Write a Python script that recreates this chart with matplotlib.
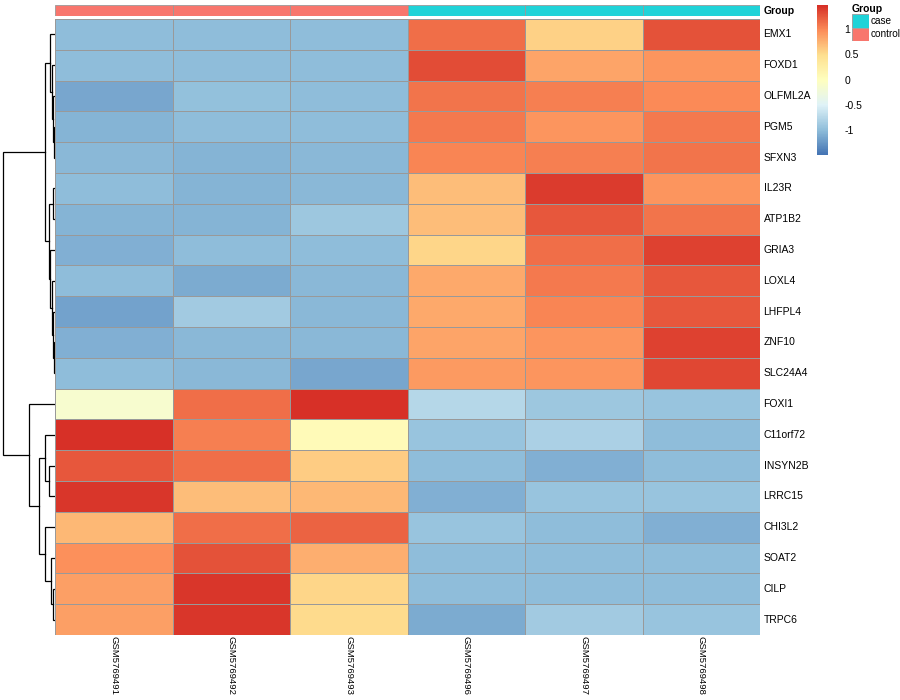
#---Import libraries---
import numpy as np
import matplotlib
matplotlib.use("Agg")
import matplotlib.pyplot as plt
from matplotlib.colors import LinearSegmentedColormap
from matplotlib.patches import Rectangle

plt.rcParams['font.family'] = ['Liberation Sans', 'DejaVu Sans']

#---Data---
genes = ["EMX1", "FOXD1", "OLFML2A", "PGM5", "SFXN3", "IL23R", "ATP1B2",
         "GRIA3", "LOXL4", "LHFPL4", "ZNF10", "SLC24A4", "FOXI1", "C11orf72",
         "INSYN2B", "LRRC15", "CHI3L2", "SOAT2", "CILP", "TRPC6"]
samples = ["GSM5769491", "GSM5769492", "GSM5769493",
           "GSM5769496", "GSM5769497", "GSM5769498"]
groups = ["control", "control", "control", "case", "case", "case"]

values = np.array([
    [-1.00, -1.00, -1.00, 1.15, 0.60, 1.30],
    [-1.00, -1.00, -1.00, 1.33, 0.85, 0.95],
    [-1.15, -0.95, -1.00, 1.12, 1.06, 1.00],
    [-1.05, -1.00, -1.00, 1.10, 0.95, 1.10],
    [-1.02, -1.05, -1.02, 1.05, 1.08, 1.12],
    [-1.00, -1.05, -1.02, 0.72, 1.42, 0.95],
    [-1.05, -1.05, -0.90, 0.72, 1.28, 1.12],
    [-1.08, -1.00, -1.00, 0.55, 1.15, 1.40],
    [-1.00, -1.10, -1.02, 0.82, 1.10, 1.27],
    [-1.18, -0.88, -1.02, 0.82, 1.03, 1.27],
    [-1.08, -1.02, -1.02, 0.85, 0.95, 1.40],
    [-0.98, -1.02, -1.15, 0.92, 0.95, 1.38],
    [-0.12, 1.15, 1.50, -0.75, -0.90, -0.93],
    [1.48, 1.06, 0.08, -0.92, -0.80, -1.00],
    [1.27, 1.15, 0.62, -1.00, -1.08, -1.00],
    [1.45, 0.72, 0.75, -1.08, -0.93, -0.93],
    [0.75, 1.15, 1.23, -0.93, -1.00, -1.08],
    [0.97, 1.30, 0.80, -1.00, -0.98, -1.00],
    [0.90, 1.45, 0.55, -1.00, -0.98, -1.00],
    [0.90, 1.45, 0.53, -1.10, -0.88, -0.93],
])

#Row clustering: (left, right, height).
#Leaves are 0-19, merged nodes are numbered from 20 onward.
merges = [
    (3, 4, 0.5), (2, 20, 1.5), (1, 21, 2.8), (0, 22, 4.5),
    (5, 6, 1.5), (10, 11, 1.0), (9, 25, 2.0), (8, 26, 3.0),
    (7, 27, 4.5), (24, 28, 6.0), (23, 29, 9.5),
    (14, 15, 5.5), (13, 31, 9.5), (18, 19, 1.5), (17, 33, 3.5),
    (16, 34, 9.5), (32, 35, 15.5), (12, 36, 25.5), (30, 37, 51.5),
]

vmin, vmax = -1.48, 1.5
group_colors = {"case": "#1FD3D8", "control": "#F8766D"}

#---Colour map (reversed RdYlBu, 7 colours)---
cols = ["#4575B4", "#91BFDB", "#E0F3F8", "#FFFFBF", "#FEE090", "#FC8D59", "#D73027"]
cmap = LinearSegmentedColormap.from_list("rdylbu_r", cols, N=100)

fig = plt.figure(figsize=(9, 7), dpi=100)
W, H = 900.0, 700.0
grid_col = "#999999"

def px_axes(x0, y0, x1, y1):
    return fig.add_axes([x0 / W, 1 - y1 / H, (x1 - x0) / W, (y1 - y0) / H])

nr, nc = values.shape

#---Heatmap---
ax = px_axes(55, 19, 760, 635)
ax.pcolormesh(values, cmap=cmap, vmin=vmin, vmax=vmax,
              edgecolors=grid_col, linewidth=0.6)
ax.set_xlim(0, nc)
ax.set_ylim(nr, 0)
ax.axis("off")
for i, g in enumerate(genes):
    ax.text(nc + 0.03, i + 0.5, g, va="center", ha="left", fontsize=7.5)
for j, s in enumerate(samples):
    ax.text(j + 0.5, nr + 0.04, s, rotation=-90, va="top", ha="center",
            fontsize=6.8)

#---Annotation bar---
axa = px_axes(55, 5, 760, 16)
for j, g in enumerate(groups):
    axa.add_patch(Rectangle((j, 0), 1, 1, facecolor=group_colors[g],
                            edgecolor=grid_col, linewidth=0.6))
axa.set_xlim(0, nc)
axa.set_ylim(0, 1)
axa.axis("off")
axa.text(nc + 0.03, 0.5, "Group", va="center", ha="left", fontsize=7.5,
         fontweight="bold")

#---Row dendrogram---
axd = px_axes(0, 19, 55, 635)
pos = {i: (i + 0.5, 0.0) for i in range(nr)}
for k, (a, b, h) in enumerate(merges):
    ya, ha = pos[a]
    yb, hb = pos[b]
    axd.plot([ha, h, h, hb], [ya, ya, yb, yb], color="black", linewidth=0.9,
             solid_joinstyle="miter")
    pos[nr + k] = ((ya + yb) / 2, h)
axd.set_xlim(54.5, -0.5)
axd.set_ylim(nr, 0)
axd.axis("off")

#---Colour legend---
axc = px_axes(817, 5, 828, 155)
grad = np.linspace(vmax, vmin, 200).reshape(-1, 1)
axc.imshow(grad, aspect="auto", cmap=cmap, vmin=vmin, vmax=vmax,
           extent=[0, 1, vmin, vmax])
axc.set_xlim(0, 1)
axc.set_ylim(vmin, vmax)
axc.axis("off")
for t, lab in zip([1, 0.5, 0, -0.5, -1], ["1", "0.5", "0", "-0.5", "-1"]):
    axc.text(2.5, t, lab, va="center", ha="left", fontsize=7.5)

#---Group legend---
fig.text(852 / W, 1 - 9 / H, "Group", fontsize=7.5, fontweight="bold",
         va="center", ha="left")
for i, g in enumerate(["case", "control"]):
    y0 = 14 + i * 13.5
    axl = px_axes(852, y0, 869, y0 + 13.5)
    axl.add_patch(Rectangle((0, 0), 1, 1, facecolor=group_colors[g],
                            edgecolor=grid_col, linewidth=0.6))
    axl.axis("off")
    fig.text(871 / W, 1 - (y0 + 6.5) / H, g, fontsize=7.2, va="center",
             ha="left")

plt.savefig("out.png", dpi=100)
